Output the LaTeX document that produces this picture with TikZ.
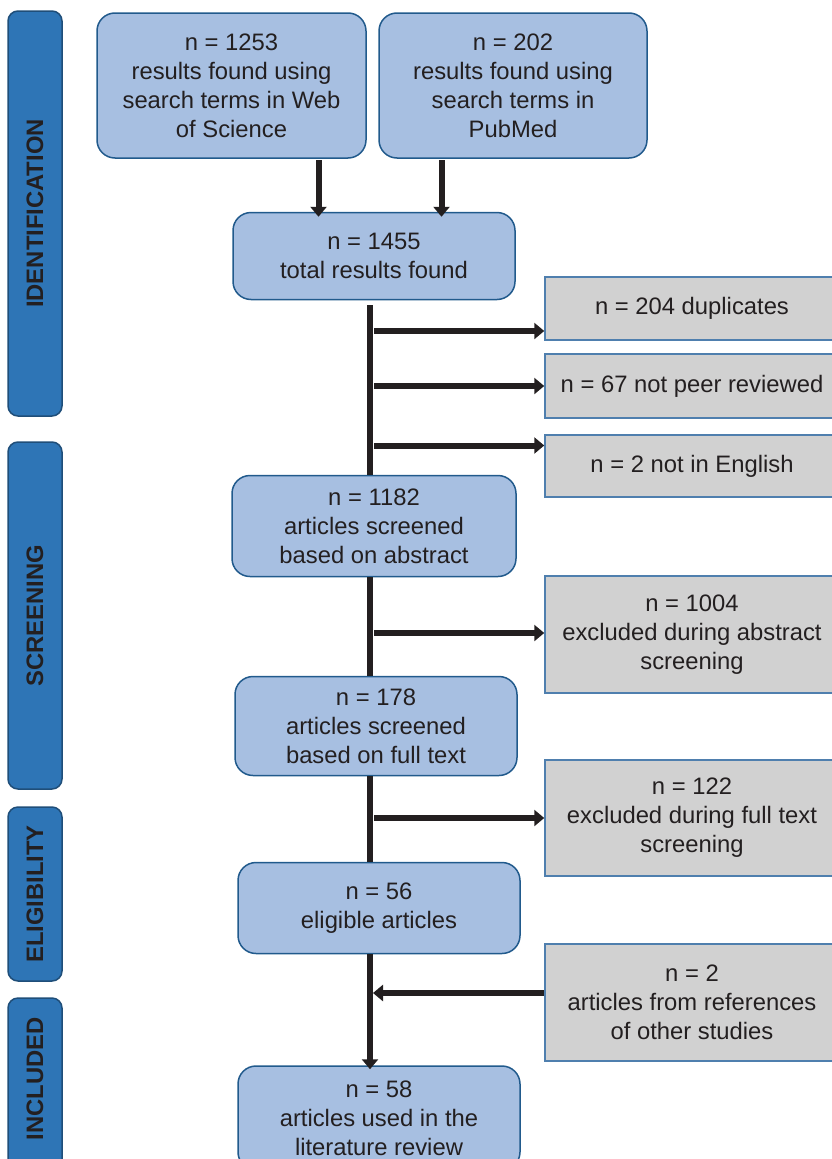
\documentclass[tikz,border=0pt]{standalone}
\usepackage{fontspec}
\setmainfont{Liberation Sans}
\usetikzlibrary{arrows.meta}
\definecolor{txt}{HTML}{231F20}
\definecolor{barfill}{HTML}{2E75B6}
\definecolor{barline}{HTML}{1F4E79}
\definecolor{bluefill}{HTML}{A7BFE1}
\definecolor{blueline}{HTML}{215A8C}
\definecolor{grayfill}{HTML}{D1D1D1}
\definecolor{grayline}{HTML}{4F7FAE}
\tikzset{
  phasebar/.style={draw=barline, fill=barfill, line width=1.5pt, rounded corners=10pt, minimum width=54pt, inner sep=0pt, anchor=center},
  phasetext/.style={rotate=90, text=txt, font=\fontsize{23.8}{28}\selectfont\bfseries},
  bluebox/.style={draw=blueline, fill=bluefill, line width=1.5pt, rounded corners=18pt, inner sep=0pt,
     align=center, text=txt, font=\fontsize{23.8}{29}\selectfont},
  graybox/.style={draw=grayline, fill=grayfill, line width=1.5pt, inner sep=0pt,
     align=center, text=txt, font=\fontsize{23.8}{29}\selectfont},
  flowline/.style={draw=txt, line width=6pt},
  flowarrow/.style={draw=txt, line width=6pt, -{Triangle[width=16pt,length=10pt]}}
}
\begin{document}
\begin{tikzpicture}[x=1pt,y=-1pt]
\useasboundingbox (0,0) rectangle (831,1159);
% phase bars
\node[phasebar, minimum height=405pt] (pid) at (35,213.5) {};
\node[phasetext] (tid) at (pid.center) {IDENTIFICATION};
\node[phasebar, minimum height=347pt] (psc) at (35,615.5) {};
\node[phasetext] (tsc) at (psc.center) {SCREENING};
\node[phasebar, minimum height=174pt] (pel) at (35,894) {};
\node[phasetext] (tel) at (pel.center) {ELIGIBILITY};
\node[phasebar, minimum height=180pt] (pin) at (35,1088) {};
\node[phasetext] (tin) at (35,1079) {INCLUDED};
% blue boxes
\node[bluebox, minimum width=269pt, minimum height=145pt] (b1) at (231.5,85.5) {n = 1253\\results found using\\search terms in Web\\of Science};
\node[bluebox, minimum width=268pt, minimum height=145pt] (b2) at (513,85.5) {n = 202\\results found using\\search terms in\\PubMed};
\node[bluebox, minimum width=282pt, minimum height=87pt] (b3) at (374,256) {n = 1455\\total results found};
\node[bluebox, minimum width=284pt, minimum height=101pt] (b4) at (374,526) {n = 1182\\articles screened\\based on abstract};
\node[bluebox, minimum width=282pt, minimum height=99pt] (b5) at (376,726) {n = 178\\articles screened\\based on full text};
\node[bluebox, minimum width=282pt, minimum height=91pt] (b6) at (379,908) {n = 56\\eligible articles};
\node[bluebox, minimum width=282pt, minimum height=104pt] (b7) at (379,1118) {n = 58\\articles used in the\\literature review};
% gray boxes
\node[graybox, minimum width=294pt, minimum height=63pt] (g1) at (692,308.5) {n = 204 duplicates};
\node[graybox, minimum width=294pt, minimum height=64pt] (g2) at (692,386) {n = 67 not peer reviewed};
\node[graybox, minimum width=294pt, minimum height=62pt] (g3) at (692,466) {n = 2 not in English};
\node[graybox, minimum width=294pt, minimum height=117pt] (g4) at (692,634.5) {n = 1004\\excluded during abstract\\screening};
\node[graybox, minimum width=294pt, minimum height=116pt] (g5) at (692,818) {n = 122\\excluded during full text\\screening};
\node[graybox, minimum width=294pt, minimum height=117pt] (g6) at (692,1002.5) {n = 2\\articles from references\\of other studies};
% down arrows
\coordinate (a1) at (318.5,160);
\coordinate (a2) at (441.5,160);
\draw[flowarrow] (a1) -- ([yshift=-5pt]a1 |- b3.north);
\draw[flowarrow] (a2) -- ([yshift=-5pt]a2 |- b3.north);
% vertical trunk
\coordinate (v1) at (370,305);
\draw[flowline] (v1) -- (v1 |- b4.north);
\draw[flowline] (v1 |- b4.south) -- (v1 |- b5.north);
\draw[flowline] (v1 |- b5.south) -- (v1 |- b6.north);
\draw[flowarrow] (v1 |- b6.south) -- ([yshift=-4pt]v1 |- b7.north);
% side arrows
\coordinate (h1) at (374,331);
\coordinate (h2) at (374,386);
\coordinate (h3) at (374,445.5);
\coordinate (h4) at (374,633);
\coordinate (h5) at (374,818);
\coordinate (h6) at (373,993);
\draw[flowarrow] (h1) -- (h1 -| g1.west);
\draw[flowarrow] (h2) -- (h2 -| g2.west);
\draw[flowarrow] (h3) -- (h3 -| g3.west);
\draw[flowarrow] (h4) -- (h4 -| g4.west);
\draw[flowarrow] (h5) -- (h5 -| g5.west);
\draw[flowarrow] (h6 -| g6.west) -- (h6);
\end{tikzpicture}
\end{document}
